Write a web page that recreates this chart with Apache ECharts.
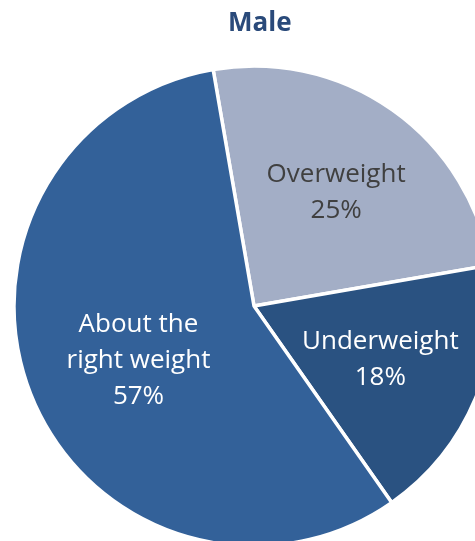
<!DOCTYPE html>
<html><head><meta charset="utf-8">
<script src="https://cdn.jsdelivr.net/npm/echarts@6/dist/echarts.min.js"></script>
<style>html,body{margin:0;padding:0;background:#fff}#c{width:475px;height:541px}</style>
</head><body><div id="c"></div>
<script>
var categories = ['Overweight', 'Underweight', 'About the\nright weight'];
var values = [25, 18, 57];
var titleText = 'Male';

var colors = ['#a3aec6', '#2a5281', '#336199'];
var labelColors = ['#404040', '#ffffff', '#ffffff'];
var labelOffsets = [[2, 0], [-2, 0], [13, 2]];

var chart = echarts.init(document.getElementById('c'));
var font = '"Open Sans", sans-serif';
var center = [254, 306];
var startAngle = 99.8;
chart.setOption({
  animation: false,
  title: {text: titleText, left: 223, top: 6,
    textStyle: {fontFamily: font, fontWeight: 'bold', fontSize: 26, color: '#2a4a7a'}},
  series: [{
    type: 'pie', center: center, radius: [0, 240], startAngle: startAngle, clockwise: true,
    silent: true,
    itemStyle: {borderColor: '#ffffff', borderWidth: 3.5},
    label: {show: false}, labelLine: {show: false},
    data: categories.map(function (c, i) { return {name: c, value: values[i], itemStyle: {color: colors[i]}}; })
  }, {
    type: 'pie', center: center, radius: [0, 272], startAngle: startAngle, clockwise: true,
    silent: true, z: 5,
    itemStyle: {color: 'rgba(0,0,0,0)', borderWidth: 0},
    labelLine: {show: false},
    label: {show: true, position: 'inside', fontFamily: font, fontSize: 26, lineHeight: 36,
      formatter: function (p) { return p.name + '\n' + p.value + '%'; }},
    data: categories.map(function (c, i) {
      return {name: c, value: values[i], label: {color: labelColors[i], offset: labelOffsets[i]}};
    })
  }]
});
</script></body></html>
